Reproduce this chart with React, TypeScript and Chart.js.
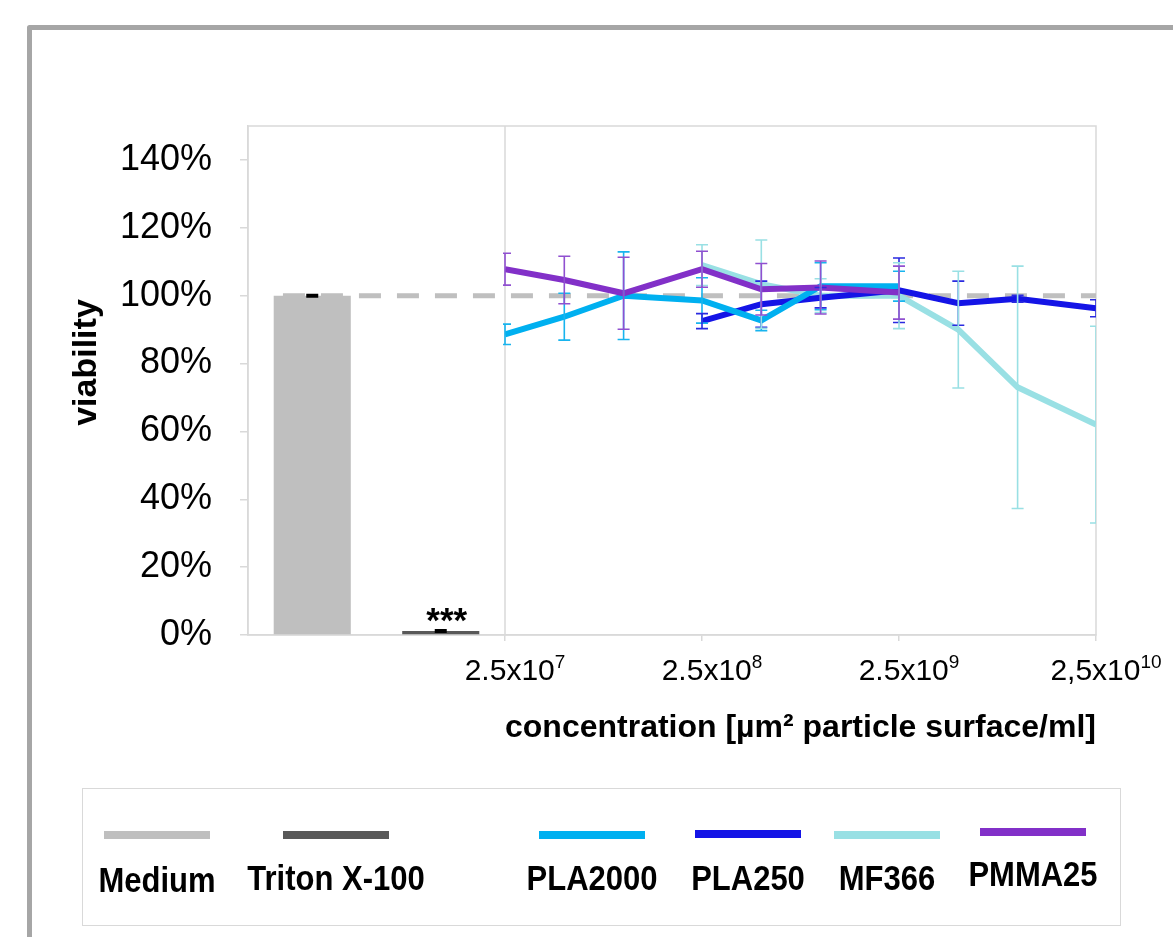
import React, { useEffect, useRef } from 'react';
import { Chart, registerables } from 'chart.js';

Chart.register(...registerables);

// ---------- data ----------
const concentrations = [2.5e7, 5e7, 1e8, 2.5e8, 5e8, 1e9, 2.5e9, 5e9, 1e10, 2.5e10];
const xTickValues = [2.5e7, 2.5e8, 2.5e9, 2.5e10];
const xTickBase = ['2.5x10', '2.5x10', '2.5x10', '2,5x10'];
const xTickExp = ['7', '8', '9', '10'];

const controlLabels = ['Medium', 'Triton X-100'];
const controlValues = [100, 1.2];
const controlErrors = [0.3, 0.3];

const pla2000 = [88.6, 93.8, 100.0, 98.6, 92.7, 102.8, 102.8, null, null, null];
const pla2000Err = [3.0, 6.9, 12.9, 6.7, 3.0, 6.9, 4.4, null, null, null];
const pla250 = [null, null, null, 92.5, 97.5, 99.4, 101.6, 97.8, 99.1, 96.3];
const pla250Err = [null, null, null, 2.2, 6.8, 3.0, 9.5, 6.5, 1.0, 2.5];
const mf366 = [null, null, null, 109.0, 103.4, 100.0, 100.0, 90.0, 73.0, 62.0];
const mf366Err = [null, null, null, 6.0, 13.0, 5.0, 9.7, 17.2, 35.7, 29.0];
const pmma25 = [107.8, 104.6, 100.7, 107.8, 101.9, 102.4, 100.9, null, null, null];
const pmma25Err = [4.7, 7.0, 10.6, 5.3, 7.6, 7.8, 7.8, null, null, null];

const referenceLevel = 100;
const significanceMark = '***';
const yTitle = 'viability';
const xTitle = 'concentration [µm² particle surface/ml]';

// ---------- styles ----------
const FONT = '"Liberation Sans", Arial, Helvetica, sans-serif';
const controlColors = ['#BFBFBF', '#595959'];
const seriesStyles = [
  { label: 'PLA2000', color: '#00B0F0', errColor: '#18B4EE', data: pla2000, err: pla2000Err, order: 2 },
  { label: 'PLA250', color: '#1414E6', errColor: '#2A2AE0', data: pla250, err: pla250Err, order: 3 },
  { label: 'MF366', color: '#99E0E4', errColor: '#99E0E4', data: mf366, err: mf366Err, order: 4 },
  { label: 'PMMA25', color: '#8230C8', errColor: '#9050D0', data: pmma25, err: pmma25Err, order: 1 },
];

const pagePlugin = {
  id: 'page',
  beforeDraw(chart: any) {
    const ctx = chart.ctx;
    ctx.save();
    ctx.fillStyle = '#FFFFFF';
    ctx.fillRect(0, 0, chart.width, chart.height);
    ctx.strokeStyle = '#A6A6A6';
    ctx.lineWidth = 5;
    ctx.lineJoin = 'round';
    ctx.beginPath();
    ctx.moveTo(29.5, chart.height + 5);
    ctx.lineTo(29.5, 27.5);
    ctx.lineTo(chart.width + 5, 27.5);
    ctx.stroke();
    ctx.restore();
  },
  beforeDatasetsDraw(chart: any) {
    const ctx = chart.ctx;
    const a = chart.chartArea;
    const xb = chart.scales.xb;
    ctx.save();
    ctx.strokeStyle = '#D9D9D9';
    ctx.lineWidth = 1.5;
    ctx.strokeRect(a.left, a.top, a.right - a.left, a.bottom - a.top);
    ctx.beginPath();
    ctx.moveTo(xb.right, a.top);
    ctx.lineTo(xb.right, a.bottom);
    ctx.stroke();
    ctx.restore();
  },
  afterDatasetDraw(chart: any, args: any) {
    if (args.meta.type !== 'bar') return;
    const ctx = chart.ctx;
    const a = chart.chartArea;
    const y = chart.scales.y.getPixelForValue(referenceLevel);
    const bar0 = args.meta.data[0];
    const startX = bar0.x - bar0.width * 0.38;
    ctx.save();
    ctx.strokeStyle = '#BFBFBF';
    ctx.lineWidth = 5;
    ctx.setLineDash([22, 16]);
    ctx.beginPath();
    ctx.moveTo(startX, y);
    ctx.lineTo(a.right, y);
    ctx.stroke();
    ctx.restore();
  },
  afterDatasetsDraw(chart: any) {
    const ctx = chart.ctx;
    const y = chart.scales.y;
    const a = chart.chartArea;
    const xl = chart.scales.xl;
    ctx.save();
    // control bar error bars
    const barMeta = chart.getDatasetMeta(0);
    ctx.strokeStyle = '#000000';
    ctx.lineWidth = 2;
    barMeta.data.forEach((el: any, i: number) => {
      const v = controlValues[i];
      const e = controlErrors[i];
      const y1 = y.getPixelForValue(v + e);
      const y2 = y.getPixelForValue(v - e);
      ctx.beginPath();
      ctx.moveTo(el.x - 6, y1); ctx.lineTo(el.x + 6, y1);
      ctx.moveTo(el.x - 6, y2); ctx.lineTo(el.x + 6, y2);
      ctx.moveTo(el.x, y1); ctx.lineTo(el.x, y2);
      ctx.stroke();
    });
    // significance mark
    const tr = barMeta.data[1];
    ctx.fillStyle = '#000000';
    ctx.font = `bold 35px ${FONT}`;
    ctx.textAlign = 'center';
    ctx.textBaseline = 'alphabetic';
    ctx.fillText(significanceMark, tr.x + 6, tr.y + 1);
    // line error bars
    ctx.beginPath();
    ctx.rect(xl.left - 2, a.top, xl.right - xl.left + 2, a.bottom - a.top);
    ctx.clip();
    chart.data.datasets.forEach((ds: any, di: number) => {
      if (!ds.errors) return;
      const meta = chart.getDatasetMeta(di);
      ctx.strokeStyle = ds.errColor;
      ctx.lineWidth = 1.6;
      ds.data.forEach((p: any, i: number) => {
        const e = ds.errors[i];
        if (p.y == null || e == null) return;
        const px = meta.data[i].x;
        const y1 = y.getPixelForValue(p.y + e);
        const y2 = y.getPixelForValue(p.y - e);
        ctx.beginPath();
        ctx.moveTo(px, y1); ctx.lineTo(px, y2);
        ctx.moveTo(px - 6, y1); ctx.lineTo(px + 6, y1);
        ctx.moveTo(px - 6, y2); ctx.lineTo(px + 6, y2);
        ctx.stroke();
      });
    });
    ctx.restore();
  },
  afterDraw(chart: any) {
    const ctx = chart.ctx;
    const xl = chart.scales.xl;
    const yScale = chart.scales.y;
    const a = chart.chartArea;
    ctx.save();
    ctx.fillStyle = '#000000';
    ctx.textBaseline = 'alphabetic';
    ctx.textAlign = 'left';
    // x tick labels with superscript exponents
    const baseY = 680;
    xTickValues.forEach((v, i) => {
      const cx = xl.getPixelForValue(v) + 10;
      ctx.font = `30px ${FONT}`;
      const wb = ctx.measureText(xTickBase[i]).width;
      ctx.font = `19px ${FONT}`;
      const we = ctx.measureText(xTickExp[i]).width;
      const left = cx - (wb + we) / 2;
      ctx.font = `30px ${FONT}`;
      ctx.fillText(xTickBase[i], left, baseY);
      ctx.font = `19px ${FONT}`;
      ctx.fillText(xTickExp[i], left + wb, baseY - 12);
    });
    // y axis title
    ctx.save();
    ctx.font = `bold 34px ${FONT}`;
    ctx.textAlign = 'center';
    ctx.textBaseline = 'middle';
    ctx.translate(yScale.left + 47, (a.top + a.bottom) / 2 - 18);
    ctx.rotate(-Math.PI / 2);
    ctx.fillText(yTitle, 0, 0);
    ctx.restore();
    // legend
    const items = [
      ...controlLabels.map((l, i) => ({ label: l, color: controlColors[i] })),
      ...seriesStyles.map((s) => ({ label: s.label, color: s.color })),
    ];
    const legendX = [157, 336, 592, 748, 887, 1033];
    const swatchY = [835, 835, 835, 834, 835, 832];
    const labelY = [882, 880, 880, 880, 880, 876];
    ctx.strokeStyle = '#D9D9D9';
    ctx.lineWidth = 1;
    ctx.strokeRect(82.5, 788.5, 1038, 137);
    items.forEach((it, i) => {
      ctx.fillStyle = it.color;
      ctx.fillRect(legendX[i] - 53, swatchY[i] - 4, 106, 8);
      ctx.save();
      ctx.fillStyle = '#000000';
      ctx.font = `bold 31px ${FONT}`;
      ctx.textAlign = 'center';
      ctx.textBaseline = 'middle';
      ctx.translate(legendX[i], labelY[i]);
      ctx.scale(1, 1.15);
      ctx.fillText(it.label, 0, 0);
      ctx.restore();
    });
    ctx.restore();
  },
};

export default function App() {
  const ref = useRef<HTMLCanvasElement | null>(null);

  useEffect(() => {
    if (!ref.current) return;
    Chart.defaults.font.family = FONT;
    const datasets: any[] = [
      {
        type: 'bar',
        label: 'Controls',
        data: controlValues,
        backgroundColor: controlColors,
        borderWidth: 0,
        barPercentage: 0.6,
        categoryPercentage: 1,
        grouped: false,
        xAxisID: 'xb',
        yAxisID: 'y',
        order: 10,
      },
      ...seriesStyles.map((s) => ({
        type: 'line',
        label: s.label,
        data: concentrations.map((c, i) => ({ x: c, y: s.data[i] })),
        errors: s.err,
        errColor: s.errColor,
        borderColor: s.color,
        backgroundColor: s.color,
        borderWidth: 6,
        pointRadius: 0,
        tension: 0,
        fill: false,
        xAxisID: 'xl',
        yAxisID: 'y',
        order: s.order,
      })),
    ];
    const chart = new Chart(ref.current, {
      type: 'bar',
      data: { labels: controlLabels, datasets },
      options: {
        animation: false,
        responsive: false,
        maintainAspectRatio: false,
        layout: { padding: { left: 40, top: 126, right: 77, bottom: 182 } },
        plugins: { legend: { display: false }, tooltip: { enabled: false } },
        scales: {
          xb: {
            type: 'category',
            labels: controlLabels,
            position: 'bottom',
            stack: 'x',
            stackWeight: 257,
            offset: true,
            grid: { display: false },
            ticks: { display: false },
            border: { display: true, color: '#D9D9D9', width: 1.5 },
            afterFit: (s: any) => { s.height = 120; },
          },
          xl: {
            type: 'logarithmic',
            position: 'bottom',
            stack: 'x',
            stackWeight: 591,
            min: 2.5e7,
            max: 2.5e10,
            offset: false,
            afterBuildTicks: (s: any) => { s.ticks = xTickValues.map((v) => ({ value: v })); },
            grid: { offset: false, drawOnChartArea: false, drawTicks: true, tickLength: 6, color: '#D9D9D9', lineWidth: 1.5 },
            ticks: { display: false },
            border: { display: true, color: '#D9D9D9', width: 1.5 },
            title: {
              display: true,
              text: xTitle,
              color: '#000000',
              font: { size: 32, weight: 'bold', family: FONT },
              padding: { top: 0, bottom: 8 },
            },
            afterFit: (s: any) => { s.height = 120; },
          },
          y: {
            type: 'linear',
            position: 'left',
            min: 0,
            max: 150,
            ticks: {
              stepSize: 20,
              includeBounds: false,
              padding: 28,
              color: '#000000',
              font: { size: 36, family: FONT },
              callback: (v: any) => `${v}%`,
            },
            grid: { drawOnChartArea: false, drawTicks: true, tickLength: 8, color: '#D9D9D9', lineWidth: 1.5 },
            border: { display: true, color: '#D9D9D9', width: 1.5 },
            title: { display: false, text: yTitle },
            afterFit: (s: any) => { s.width = 208; },
          },
        },
      } as any,
      plugins: [pagePlugin],
    });
    return () => chart.destroy();
  }, []);

  return (
    <canvas
      ref={ref}
      width={1173}
      height={937}
      style={{ position: 'absolute', left: 0, top: 0, width: 1173, height: 937, display: 'block' }}
    />
  );
}
